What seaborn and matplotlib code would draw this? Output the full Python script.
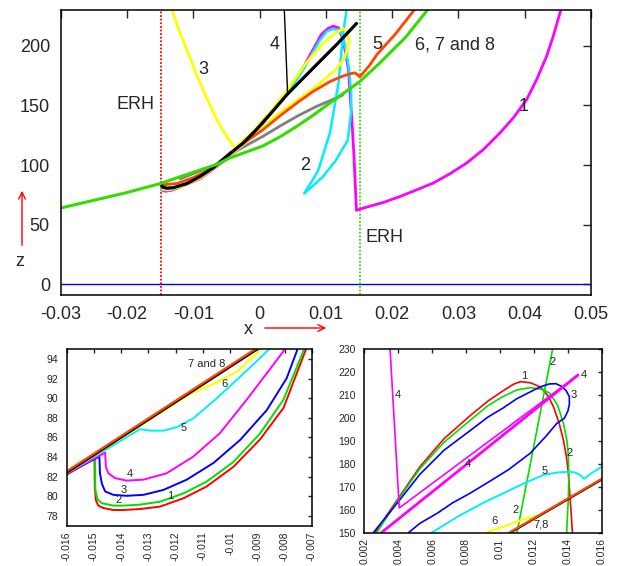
import matplotlib
matplotlib.use("Agg")
import matplotlib.pyplot as plt
import seaborn as sns

sns.set_style("white")
plt.rcParams['font.family'] = ['Liberation Sans', 'DejaVu Sans']

# ---------------- main panel data ----------------
x_base = [-0.03, 0.05]
z_base = [0, 0]

# curve 1 (magenta)
x_m1 = [-0.0149, -0.0148, -0.0142, -0.0132, -0.012, -0.009, -0.005, -0.0005, 0.0043, 0.0068,
        0.0093, 0.0103, 0.0111, 0.0119, 0.0126, 0.0134, 0.0139, 0.0142, 0.0146,
        0.01563, 0.01865, 0.02117, 0.02369, 0.0262, 0.02872, 0.03123, 0.03374, 0.03626,
        0.03827, 0.04029, 0.0418, 0.04331, 0.04431, 0.04555]
z_m1 = [84, 79, 78, 79, 81.5, 88.5, 105, 128, 162, 184,
        209.5, 214.5, 216.5, 215, 205, 180, 138, 110, 62,
        63.9, 68.6, 73.6, 79.2, 84.9, 92.7, 101.7, 112.9, 126.9,
        139.5, 154.9, 171.7, 191.3, 208.1, 232]

# curve 2 (cyan)
x_c2 = [-0.0149, -0.0148, -0.0141, -0.0131, -0.012, -0.009, -0.005, -0.0005, 0.0043, 0.0068,
        0.009, 0.0101, 0.011, 0.0119, 0.0125, 0.013, 0.0135, 0.0138, 0.0138, 0.0133,
        0.0115, 0.0095, 0.0067, 0.0088, 0.0106, 0.0119, 0.0126, 0.0132]
z_c2 = [84, 79.5, 78.8, 79.5, 82, 89, 105.5, 128.5, 161, 182,
        204, 212, 214, 213.5, 209, 197, 180, 160, 145, 121,
        104, 90, 76, 95, 127, 169, 211, 234]

# curve 3 (yellow)
x_y3 = [-0.01335, -0.01204, -0.01103, -0.01003, -0.00902, -0.00776, -0.0065, -0.00499, -0.00374,
        -0.001, 0.002, 0.0041, 0.0068, 0.0095, 0.0115, 0.0126, 0.0132, 0.0135, 0.0128, 0.0115,
        0.0081, 0.0056, 0.0031, 0.0005, -0.0025, -0.005, -0.009, -0.012, -0.0138, -0.0147, -0.0149]
z_y3 = [232, 210.9, 196.9, 182.9, 168.9, 153.4, 138.1, 124.0, 114.3,
        128, 147, 162.5, 184, 202, 211, 214.5, 211, 203, 190, 180,
        164, 154, 144, 132, 117, 106, 89, 81.5, 79.3, 80, 84]

# curve 4 (black)
x_k4 = [-0.0149, -0.0147, -0.014, -0.013, -0.011, -0.009, -0.007, -0.005, -0.0025, -0.0005,
        0.0021, 0.0041, 0.0065, 0.0086, 0.0116, 0.0146]
z_k4 = [84, 81.5, 80.6, 81, 84.5, 90.4, 98, 107.2, 118.5, 129.7,
        146, 159, 172.5, 184.3, 201, 218.7]
x_k4_top = [0.0037, 0.0042]
z_k4_top = [232, 160.5]

# curve 5 (orange)
x_o5 = [-0.0145, -0.0125, -0.01, -0.007, -0.0045, -0.002, 0.0005, 0.003, 0.0056, 0.008,
        0.0106, 0.0125, 0.0136, 0.0144, 0.0151, 0.0165, 0.0177, 0.0205, 0.0236]
z_o5 = [83.5, 84.5, 89.5, 97.5, 110, 120, 129.7, 141, 152, 161.5,
        170, 174.5, 176.5, 177.3, 174, 183, 192.7, 210, 232]

# grey curve
x_gr = [-0.012, -0.0065, -0.0045, -0.002, 0.0005, 0.003, 0.0056, 0.0085, 0.0116, 0.0125]
z_gr = [88.5, 100.5, 108.7, 116.5, 124.1, 132.5, 140.8, 149, 156.3, 158.5]

# curves 6, 7 and 8 (green)
x_g678 = [-0.03, -0.025, -0.02, -0.015, -0.01, -0.0065, -0.0045, -0.0015, 0.0005, 0.003, 0.0056,
          0.008, 0.0106, 0.0136, 0.0151, 0.0182, 0.022, 0.0256]
z_g678 = [64, 70.5, 77, 84.5, 94, 100.5, 106, 112, 116, 123.5, 132.4,
          141.5, 152, 164, 170, 186, 207, 232]

erh_left = -0.0149
erh_right = 0.0152

# ---------------- left inset data ----------------
xl_1 = [-0.016, -0.01498, -0.01497, -0.01493, -0.01484, -0.01465, -0.01429, -0.01392, -0.01331,
        -0.01257, -0.01171, -0.01086, -0.00988, -0.0089, -0.00804, -0.00724, -0.0071]
zl_1 = [82.2, 83.9, 81.0, 79.6, 79.05, 78.8, 78.6, 78.6, 78.7,
        78.95, 79.8, 81.0, 83.0, 85.8, 89.0, 94.8, 95.6]
xl_2 = [-0.016, -0.01496, -0.01495, -0.01487, -0.01471, -0.01429, -0.01392, -0.01331, -0.01257,
        -0.01171, -0.01086, -0.00988, -0.0089, -0.00804, -0.00731, -0.0072]
zl_2 = [82.25, 83.9, 80.65, 79.7, 79.3, 79.05, 79.05, 79.15, 79.45,
        80.3, 81.5, 83.5, 86.4, 89.85, 94.8, 95.5]
xl_3 = [-0.016, -0.0148, -0.01478, -0.01471, -0.01459, -0.01429, -0.0138, -0.01318, -0.01245,
        -0.01159, -0.01061, -0.00963, -0.00865, -0.00792, -0.00755, -0.0075]
zl_3 = [82.3, 84.05, 82.35, 81.3, 80.5, 80.15, 80.05, 80.15, 80.65,
        81.7, 83.4, 85.75, 88.8, 92.05, 94.8, 95.3]
xl_4 = [-0.016, -0.01459, -0.01456, -0.01447, -0.01422, -0.0138, -0.01318, -0.01233, -0.01135,
        -0.01037, -0.00939, -0.00865, -0.00804, -0.008]
zl_4 = [82.3, 84.45, 83.0, 82.35, 81.85, 81.6, 81.7, 82.35, 84.05,
        86.45, 89.85, 92.55, 94.8, 95.3]
xl_5 = [-0.016, -0.01331, -0.01294, -0.01245, -0.01196, -0.01135, -0.01049, -0.00963, -0.0089, -0.0085]
zl_5 = [82.35, 86.85, 86.7, 86.7, 87.05, 87.95, 90.0, 92.2, 94.1, 95.2]
xl_6 = [-0.016, -0.0115, -0.0105, -0.0097, -0.0088]
zl_6 = [82.4, 90.4, 91.6, 92.8, 95.2]
xl_78 = [-0.016, -0.013, -0.009]
zl_7 = [82.4, 87.8, 95.0]
zl_8 = [82.55, 87.95, 95.15]

# ---------------- right inset data ----------------
xr_4a = [0.00351, 0.00406, 0.0146]
zr_4a = [231, 160.8, 218.8]
xr_4b = [0.0146, 0.003]
zr_4b = [218.8, 150]
xr_1 = [0.00263, 0.004, 0.00528, 0.0067, 0.00823, 0.0093, 0.0102, 0.0108, 0.0112, 0.0118, 0.0124,
        0.01285, 0.01315, 0.01348, 0.01374, 0.01392, 0.01403, 0.01417, 0.01427]
zr_1 = [150, 165, 178.8, 191, 201, 207.5, 212, 214.8, 215.9, 215.4, 213.5,
        209.5, 205, 198, 190.4, 183, 175.9, 161.3, 150]
xr_2 = [0.00273, 0.004, 0.00528, 0.0067, 0.00823, 0.0093, 0.0102, 0.011, 0.0118, 0.0125, 0.01295,
        0.0134, 0.01374, 0.01395, 0.01403, 0.01406, 0.01403, 0.01393]
zr_2 = [150, 164.5, 178, 189.5, 199, 205.5, 209.5, 212.3, 213.3, 212.5, 210.8,
        205.5, 197.7, 190, 183.2, 175, 165, 150]
xr_2b = [0.011, 0.0131]
zr_2b = [150, 230]
xr_3 = [0.00253, 0.004, 0.00528, 0.0067, 0.00823, 0.0093, 0.0102, 0.011, 0.0118, 0.0124, 0.0129,
        0.0133, 0.0136, 0.0139, 0.01409, 0.01409, 0.014, 0.0138, 0.01335, 0.0127, 0.01177, 0.0105,
        0.0093, 0.00823, 0.0072, 0.0063, 0.00528, 0.0046]
zr_3 = [150, 163.5, 175.5, 186, 194.5, 200.5, 204.5, 208.5, 211.5, 213.7, 214.9,
        215, 214, 212, 209.3, 206, 203, 200, 197.7, 192, 184.6, 177.5,
        172, 167.2, 163, 158.5, 154.1, 150]
xr_5 = [0.00597, 0.0075, 0.009, 0.0102, 0.0114, 0.01256, 0.0134, 0.01413, 0.01445, 0.01472,
        0.01496, 0.0153, 0.016]
zr_5 = [150, 157, 163, 167.2, 171.5, 175.2, 176.3, 176.6, 176.2, 175.2, 173.5, 175.5, 178.8]
xr_6 = [0.00917, 0.0105, 0.01157, 0.0123]
zr_6 = [150, 153.5, 156.3, 157.5]
xr_78 = [0.0106, 0.016]
zr_7 = [150, 173.2]
zr_8 = [150.3, 173.5]

main_xticks = [-0.03, -0.02, -0.01, 0, 0.01, 0.02, 0.03, 0.04, 0.05]
main_xlabels = ['-0.03', '-0.02', '-0.01', '0', '0.01', '0.02', '0.03', '0.04', '0.05']
main_yticks = [0, 50, 100, 150, 200]
left_xticks = [-0.016, -0.015, -0.014, -0.013, -0.012, -0.011, -0.01, -0.009, -0.008, -0.007]
left_xlabels = ['-0.016', '-0.015', '-0.014', '-0.013', '-0.012', '-0.011', '-0.01', '-0.009', '-0.008', '-0.007']
left_yticks = [78, 80, 82, 84, 86, 88, 90, 92, 94]
right_xticks = [0.002, 0.004, 0.006, 0.008, 0.01, 0.012, 0.014, 0.016]
right_xlabels = ['0.002', '0.004', '0.006', '0.008', '0.01', '0.012', '0.014', '0.016']
right_yticks = [150, 160, 170, 180, 190, 200, 210, 220, 230]

RED, GREEN, BLUE = '#ff0000', '#00e000', '#0000ff'
MAG, CYAN, YEL = '#ff00ff', '#00eeff', '#ffff00'
ORANGE, GREY, LGREEN = '#ff4500', '#808080', '#33dd00'


def curve(ax, xs, zs, color, lw=1.5):
    sns.lineplot(x=xs, y=zs, sort=False, estimator=None, color=color,
                 linewidth=lw, ax=ax, legend=False)


def style(ax, xlim, ylim, xt, xl, yt, fs, rot, tl, xpad, ypad):
    ax.set_xlim(xlim)
    ax.set_ylim(ylim)
    ax.set_xticks(xt)
    ax.set_xticklabels(xl, rotation=rot)
    ax.set_yticks(yt)
    ax.tick_params(direction='in', top=True, right=True, length=tl, width=1,
                   labelsize=fs)
    ax.tick_params(axis='x', pad=xpad)
    ax.tick_params(axis='y', pad=ypad)
    for s in ax.spines.values():
        s.set_visible(True)
        s.set_color('black')
        s.set_linewidth(1.1)
    ax.set_xlabel('')
    ax.set_ylabel('')


fig = plt.figure(figsize=(6.23, 5.66), dpi=100)

# ---------------- main panel ----------------
ax = fig.add_axes([0.0979, 0.4788, 0.8507, 0.5035])
curve(ax, x_base, z_base, BLUE, 1.0)
ax.axvline(erh_left, color=RED, ls=(0, (1, 1)), lw=1.3)
ax.axvline(erh_right, color=LGREEN, ls=(0, (1, 1)), lw=1.3)
curve(ax, x_gr, z_gr, GREY, 2)
curve(ax, x_m1, z_m1, MAG, 2)
curve(ax, x_c2, z_c2, CYAN, 1.8)
curve(ax, x_y3, z_y3, YEL, 2)
curve(ax, x_o5, z_o5, ORANGE, 2)
curve(ax, x_k4_top, z_k4_top, 'black', 1)
curve(ax, x_k4, z_k4, 'black', 2.3)
curve(ax, x_g678, z_g678, LGREEN, 2.2)
style(ax, (-0.03, 0.05), (-9, 230), main_xticks, main_xlabels, main_yticks, 13, 0, 6, 8, 8)

tk = dict(fontsize=13, ha='center', va='center')
ax.text(-0.0188, 150.7, 'ERH', **tk)
ax.text(0.0189, 39, 'ERH', **tk)
ax.text(0.0398, 149, '1', **tk)
ax.text(0.0068, 100, '2', **tk)
ax.text(-0.0085, 180, '3', **tk)
ax.text(0.0023, 201, '4', **tk)
ax.text(0.0177, 201, '5', **tk)
ax.text(0.0295, 201, '6, 7 and 8', **tk)

fig.text(20 / 623, 1 - 262 / 566, 'z', fontsize=13, ha='center', va='center')
fig.text(248 / 623, 1 - 329 / 566, 'x', fontsize=13, ha='center', va='center')
arrow = dict(arrowstyle='->', color='red', lw=1, mutation_scale=12)
ax.annotate('', xy=(22 / 623, 1 - 188 / 566), xytext=(22 / 623, 1 - 248 / 566),
            xycoords='figure fraction', textcoords='figure fraction',
            arrowprops=arrow, annotation_clip=False)
ax.annotate('', xy=(329 / 623, 1 - 328 / 566), xytext=(262 / 623, 1 - 328 / 566),
            xycoords='figure fraction', textcoords='figure fraction',
            arrowprops=arrow, annotation_clip=False)

# ---------------- left inset ----------------
axl = fig.add_axes([0.1071, 0.0712, 0.3933, 0.3117])
curve(axl, xl_1, zl_1, RED, 1.4)
curve(axl, xl_2, zl_2, GREEN, 1.4)
curve(axl, xl_3, zl_3, BLUE, 1.4)
curve(axl, xl_4, zl_4, MAG, 1.4)
curve(axl, xl_5, zl_5, CYAN, 1.4)
curve(axl, xl_6, zl_6, YEL, 1.6)
curve(axl, xl_78, zl_7, 'black', 1.6)
curve(axl, xl_78, zl_8, ORANGE, 1.6)
style(axl, (-0.016, -0.007), (77, 95), left_xticks, left_xlabels, left_yticks, 7.5, 90, 3, 4, 6)
ts = dict(fontsize=8, ha='center', va='center')
axl.text(-0.01086, 93.5, '7 and 8', **ts)
axl.text(-0.01022, 91.5, '6', **ts)
axl.text(-0.01171, 87.0, '5', **ts)
axl.text(-0.0137, 82.25, '4', **ts)
axl.text(-0.0139, 80.6, '3', **ts)
axl.text(-0.01408, 79.6, '2', **ts)
axl.text(-0.0122, 80.0, '1', **ts)

# ---------------- right inset ----------------
axr = fig.add_axes([0.5848, 0.0588, 0.3811, 0.324])
curve(axr, xr_1, zr_1, RED, 1.2)
curve(axr, xr_2, zr_2, GREEN, 1.2)
curve(axr, xr_2b, zr_2b, GREEN, 1.2)
curve(axr, xr_3, zr_3, BLUE, 1.2)
curve(axr, xr_4a, zr_4a, MAG, 1.2)
curve(axr, xr_4b, zr_4b, MAG, 2)
curve(axr, xr_5, zr_5, CYAN, 1.4)
curve(axr, xr_6, zr_6, YEL, 1.6)
curve(axr, xr_78, zr_7, 'black', 1.6)
curve(axr, xr_78, zr_8, ORANGE, 1.6)
style(axr, (0.002, 0.016), (150, 230), right_xticks, right_xlabels, right_yticks, 7.5, 90, 3, 4, 6)
axr.text(0.00395, 210, '4', **ts)
axr.text(0.01142, 218.3, '1', **ts)
axr.text(0.01311, 224.6, '2', **ts)
axr.text(0.01492, 219, '4', **ts)
axr.text(0.01433, 210, '3', **ts)
axr.text(0.01413, 184.6, '2', **ts)
axr.text(0.00813, 180, '4', **ts)
axr.text(0.01262, 176.9, '5', **ts)
axr.text(0.01093, 159.9, '2', **ts)
axr.text(0.00965, 155.1, '6', **ts)
axr.text(0.0124, 153.4, '7,8', **ts)

fig.savefig('out.png', dpi=100)
